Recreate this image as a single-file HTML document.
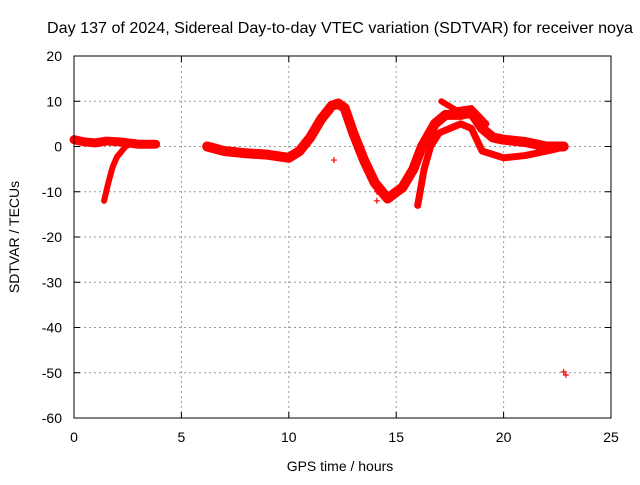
<!DOCTYPE html>
<html><head><meta charset="utf-8"><style>
body{margin:0;background:#fff;font-family:"Liberation Sans",sans-serif}
svg text{font-family:"Liberation Sans",sans-serif;font-size:14px;fill:#000}
</style></head><body>
<svg id="c" width="640" height="480">
<text x="340" y="33" text-anchor="middle" style="font-size:16px" textLength="586" lengthAdjust="spacingAndGlyphs">Day 137 of 2024, Sidereal Day-to-day VTEC variation (SDTVAR) for receiver noya</text>
<text x="340" y="471" text-anchor="middle">GPS time / hours</text>
<text transform="translate(19,237) rotate(-90)" text-anchor="middle">SDTVAR / TECUs</text>
<g id="grid"></g>
<g id="ticks"></g>
<g id="marks"></g>
<rect x="74" y="56" width="537" height="362" fill="none" stroke="#000" stroke-width="1"/>
</svg>
<script>
const xTicks=[0,5,10,15,20,25];
const yTicks=[20,10,0,-10,-20,-30,-40,-50,-60];
// tracks: time (hours) and SDTVAR values
const trackA_t=[0,0.5,1,1.5,2.2,3,3.8];
const trackA_v=[1.5,1,0.8,1.2,1,0.5,0.5];
const trackB_t=[1.4,1.6,1.8,2.0,2.4,2.8];
const trackB_v=[-12,-8,-4.5,-2.3,0,1];
const trackC_t=[6.2,7,8,9,10,10.5,11,11.5,12,12.3,12.6,13,13.5,14,14.6,15.3,15.8,16.2,16.8,17.3,18,18.5,19,19.5,20,21,22,22.8];
const trackC_v=[0,-1,-1.5,-1.8,-2.5,-1,2,6,9,9.5,8.5,3,-3,-8,-11.5,-9,-5,0,5,7,7,7.5,4,2,1.5,1,0,0];
const trackD_t=[16,16.3,16.6,17,17.5,18,18.5,19,20,21,22,22.5];
const trackD_v=[-13,-5,0,3,4,5,4,-1,-2.5,-2,-1,-0.5];
const trackE_t=[17.1,17.8,18.5,19.2];
const trackE_v=[10,8,8.5,5];
const outl_t=[12.1,14.1,14.1,22.8,22.9];
const outl_v=[-3,-10,-12,-49.8,-50.5];
const X=t=>74+t*(537/25);
const Y=v=>146.5-v*(362/80);
const NS="http://www.w3.org/2000/svg";
const grid=document.getElementById('grid'),ticks=document.getElementById('ticks'),marks=document.getElementById('marks');
function mk(p,tag,a){const e=document.createElementNS(NS,tag);for(const k in a)e.setAttribute(k,a[k]);p.appendChild(e);return e;}
xTicks.forEach(t=>{
 if(t>0&&t<25){const g=mk(grid,'line',{x1:X(t),x2:X(t),y1:56,y2:418,stroke:'#999','stroke-dasharray':'2,3'});
 
 }
 mk(ticks,'line',{x1:X(t),x2:X(t),y1:418,y2:412,stroke:'#000'});mk(ticks,'line',{x1:X(t),x2:X(t),y1:56,y2:62,stroke:'#000'});
 const l=mk(ticks,'text',{x:X(t),y:442,'text-anchor':'middle'});l.textContent=t;
 
 
});
yTicks.forEach(v=>{
 if(v<20&&v>-60){const g=mk(grid,'line',{x1:74,x2:611,y1:Y(v),y2:Y(v),stroke:'#999','stroke-dasharray':'2,3'});
 
 }
 mk(ticks,'line',{x1:74,x2:80,y1:Y(v),y2:Y(v),stroke:'#000'});mk(ticks,'line',{x1:611,x2:605,y1:Y(v),y2:Y(v),stroke:'#000'});
 const l=mk(ticks,'text',{x:62,y:Y(v)+5,'text-anchor':'end'});l.textContent=v;
 
 
});
function track(ts,vs,w,name){
 const p=mk(marks,'polyline',{points:ts.map((t,i)=>X(t)+','+Y(vs[i])).join(' '),fill:'none',stroke:'#f00','stroke-width':w,'stroke-linejoin':'round','stroke-linecap':'round'});
 
 
}
track(trackA_t,trackA_v,9,'track-a');
track(trackB_t,trackB_v,6,'track-b');
track(trackC_t,trackC_v,10,'track-c');
track(trackD_t,trackD_v,7,'track-d');
track(trackE_t,trackE_v,6,'track-e');
outl_t.forEach((t,i)=>{
 const g=mk(marks,'path',{d:`M${X(t)-3},${Y(outl_v[i])}h6M${X(t)},${Y(outl_v[i])-3}v6`,stroke:'#f00','stroke-width':1.2});
 
 
});
</script>
</body></html>
